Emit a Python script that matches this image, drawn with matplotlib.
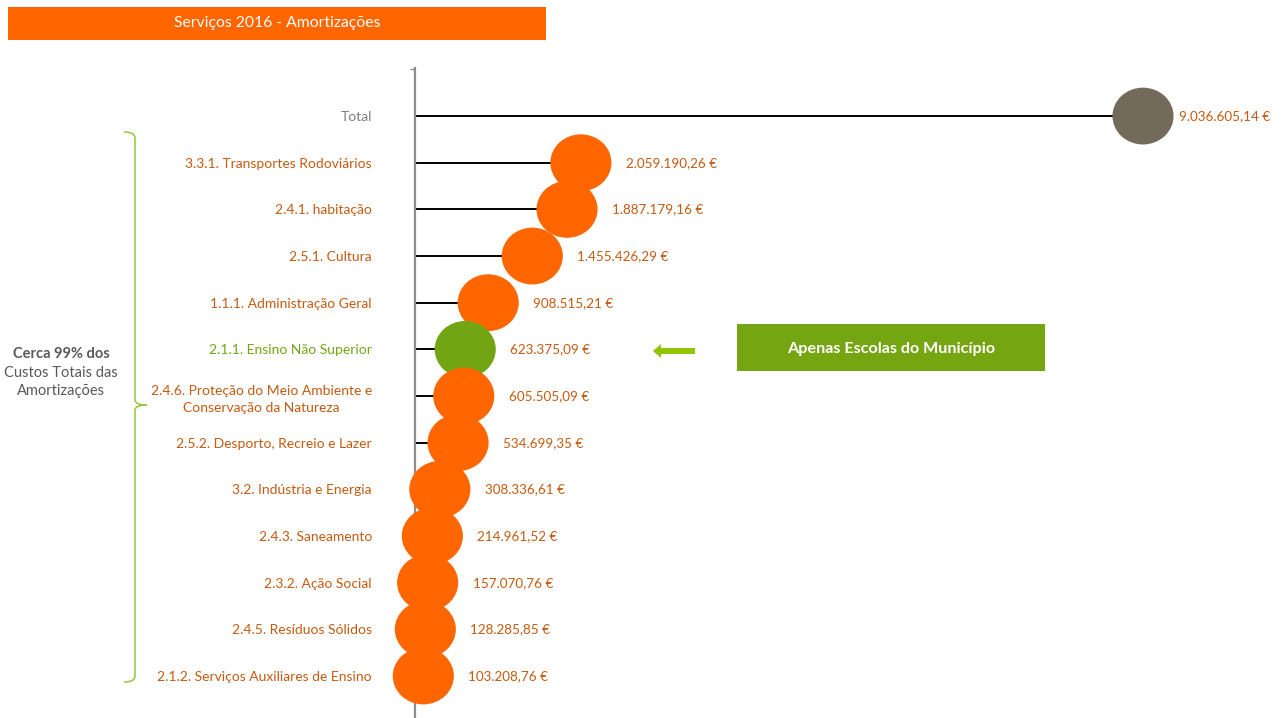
import matplotlib
matplotlib.use("Agg")
import matplotlib.pyplot as plt
from matplotlib.patches import Rectangle, FancyArrow, PathPatch
from matplotlib.path import Path
from matplotlib.markers import MarkerStyle
from matplotlib.transforms import Affine2D
import numpy as np

plt.rcParams['font.family'] = ['Lato', 'DejaVu Sans']

# data (top row first)
categories = ['Total',
              '3.3.1. Transportes Rodoviários',
              '2.4.1. habitação',
              '2.5.1. Cultura',
              '1.1.1. Administração Geral',
              '2.1.1. Ensino Não Superior',
              '2.4.6. Proteção do Meio Ambiente e\nConservação da Natureza',
              '2.5.2. Desporto, Recreio e Lazer',
              '3.2. Indústria e Energia',
              '2.4.3. Saneamento',
              '2.3.2. Ação Social',
              '2.4.5. Resíduos Sólidos',
              '2.1.2. Serviços Auxiliares de Ensino']
values = [9036605.14, 2059190.26, 1887179.16, 1455426.29, 908515.21,
          623375.09, 605505.09, 534699.35, 308336.61, 214961.52,
          157070.76, 128285.85, 103208.76]
title = 'Serviços 2016 - Amortizações'
note = 'Apenas Escolas do Município'

ORANGE = '#FF6600'
DARK_OR = '#C55A11'
GREEN = '#72A514'
GRAY = '#736A5A'

def euro(v):
    s = f"{v:,.2f}"
    return s.replace(',', 'X').replace('.', ',').replace('X', '.') + ' €'

W, H = 1283, 718
fig = plt.figure(figsize=(W / 100, H / 100), dpi=100)

# overlay in pixel coords for banner, box, brace etc
ov = fig.add_axes([0, 0, 1, 1])
ov.set_xlim(0, W)
ov.set_ylim(H, 0)
ov.axis('off')

ax = fig.add_axes([415 / W, 0, (W - 415) / W, 650 / H])
ax.patch.set_alpha(0)

rows = np.arange(len(categories))
pt_colors = [GRAY] + [ORANGE] * 4 + [GREEN] + [ORANGE] * 7

ax.hlines(rows, 0, values, color='black', lw=1.4, zorder=1)

ell = MarkerStyle(Path.unit_circle().transformed(Affine2D().scale(1.0, 0.93)))
ax.scatter(values, rows, s=44 ** 2, marker=ell, c=pt_colors, linewidths=0,
           zorder=3, clip_on=False)

for i, v in enumerate(values):
    dx = 36 if i == 0 else 45
    ax.annotate(euro(v), (v, i), xytext=(dx, 0), textcoords='offset pixels',
                ha='left', va='center', fontsize=9.7, color=DARK_OR)

ax.set_xlim(0, (W - 415) / 80.56e-6)
ax.set_ylim(12.9, -1.03)
ax.set_xticks([])
ax.set_yticks(rows, categories)
ax.set_yticks(np.arange(-1, 12, 2), minor=True)
ax.tick_params(axis='y', which='major', length=0, pad=31, labelsize=10)
ax.tick_params(axis='y', which='minor', length=3.6, width=1, color='#8C8C8C')
for i, lab in enumerate(ax.get_yticklabels()):
    lab.set_multialignment('center')
    lab.set_linespacing(1.45)
    lab.set_color('#7F7F7F' if i == 0 else (GREEN if i == 5 else DARK_OR))
for sp in ['top', 'right', 'bottom']:
    ax.spines[sp].set_visible(False)
ax.spines['left'].set_color('#8C8C8C')
ax.spines['left'].set_linewidth(1.6)
ax.spines['left'].set_zorder(2)

# title banner
ov.add_patch(Rectangle((8, 7), 538, 33, color=ORANGE, lw=0))
ov.text(277, 23.5, title, color='white', fontsize=11.3, ha='center', va='center')

# green note box and arrow
ov.add_patch(Rectangle((737, 324), 308, 47, color='#76A512', lw=0))
ov.text(891, 349, note, color='white', fontsize=11.6, fontweight='bold', ha='center', va='center')
ov.add_patch(FancyArrow(695, 351, -42, 0, width=6, head_width=14, head_length=8,
                        length_includes_head=True, color='#92C400', lw=0))

# brace
verts = [(124, 132), (135, 132), (135, 138), (135, 400), (135, 405), (147, 405),
         (135, 405), (135, 410), (135, 676), (135, 682), (124, 682)]
codes = [Path.MOVETO, Path.CURVE3, Path.CURVE3, Path.LINETO, Path.CURVE3, Path.CURVE3,
         Path.CURVE3, Path.CURVE3, Path.LINETO, Path.CURVE3, Path.CURVE3]
ov.add_patch(PathPatch(Path(verts, codes), fill=False, ec='#92C83A', lw=1.1))

ov.text(61, 354, 'Cerca 99% dos', color='#595959', fontsize=10.5, fontweight='bold',
        ha='center', va='center')
ov.text(61, 382, 'Custos Totais das\nAmortizações', color='#595959', fontsize=10.5,
        ha='center', va='center', linespacing=1.3)

fig.savefig('out.png', dpi=100)
